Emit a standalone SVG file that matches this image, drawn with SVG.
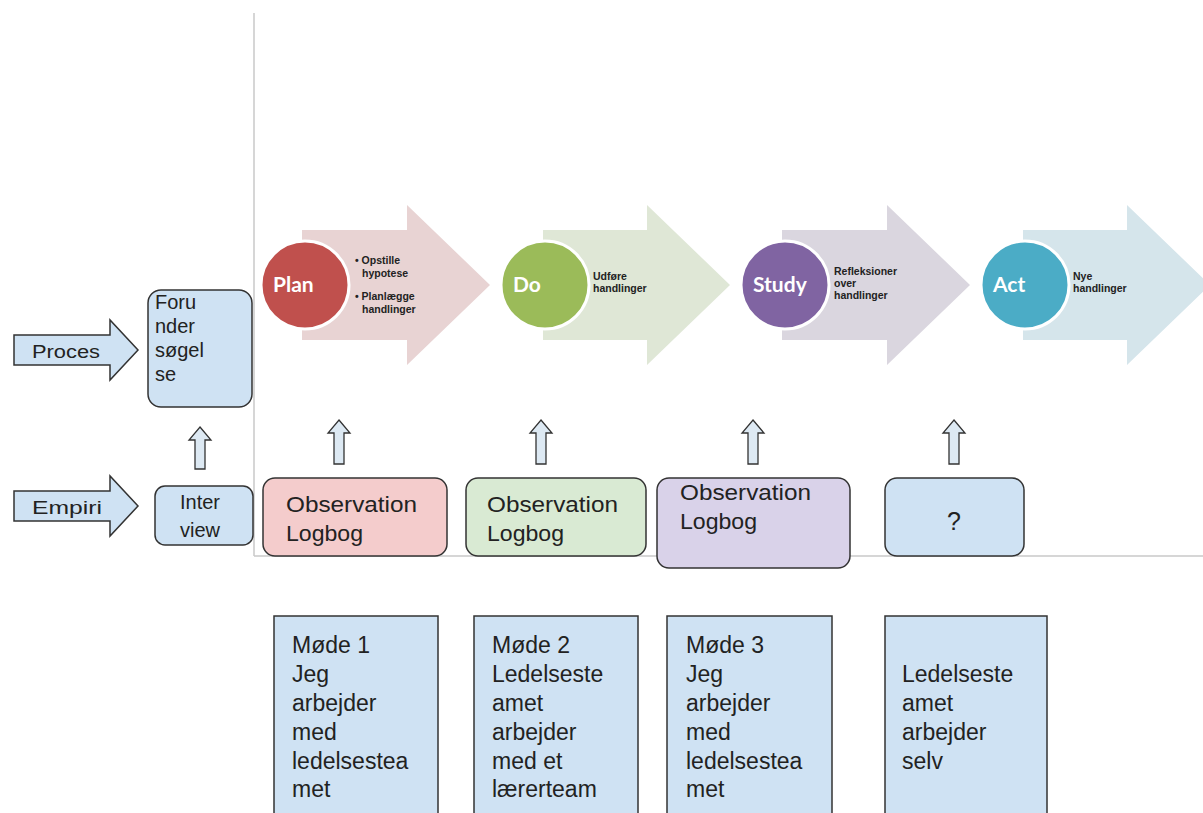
<svg xmlns="http://www.w3.org/2000/svg" width="1203" height="813" viewBox="0 0 1203 813">
<style>
.box{fill:#cfe2f3;stroke:#333;stroke-width:1.5}
.t{font-family:"Liberation Sans",Arial,sans-serif;fill:#222}
.ct{font-family:Lato,"Open Sans",sans-serif;font-weight:bold;fill:#fff;font-size:21px}
.st{font-family:"Liberation Sans",Arial,sans-serif;font-weight:bold;fill:#222;font-size:10.5px}
.ua{fill:#dde9f3;stroke:#333;stroke-width:1.3}
.circ{stroke:#fff;stroke-width:3}
</style>
<rect width="1203" height="813" fill="#fff"/>
<g id="frame">
<line x1="254" y1="13" x2="254" y2="556" stroke="#c8c8c8" stroke-width="1.5"/>
<line x1="254" y1="556" x2="1203" y2="556" stroke="#c8c8c8" stroke-width="1.5"/>
</g>
<g id="plan">
<polygon points="302,230 407,230 407,205 490,285 407,365 407,340 302,340" fill="#e8d3d3"/>
<circle class="circ" cx="305" cy="285" r="44" fill="#c0504d"/>
<text class="ct" x="273" y="292">Plan</text>
<text class="st" x="355" y="264">• Opstille</text>
<text class="st" x="362" y="277">hypotese</text>
<text class="st" x="355" y="300">• Planlægge</text>
<text class="st" x="362" y="313">handlinger</text>
</g>
<g id="do">
<polygon points="543,230 647,230 647,205 730,285 647,365 647,340 543,340" fill="#dfe7d6"/>
<circle class="circ" cx="545" cy="285" r="44" fill="#9bbb59"/>
<text class="ct" x="513" y="292" font-weight="normal">Do</text>
<text class="st" x="593" y="280">Udføre</text>
<text class="st" x="593" y="292">handlinger</text>
</g>
<g id="study">
<polygon points="782,230 887,230 887,205 970,285 887,365 887,340 782,340" fill="#dad6df"/>
<circle class="circ" cx="785" cy="285" r="44" fill="#8064a2"/>
<text class="ct" x="753" y="292">Study</text>
<text class="st" x="834" y="275">Refleksioner</text>
<text class="st" x="834" y="287">over</text>
<text class="st" x="834" y="299">handlinger</text>
</g>
<g id="act">
<polygon points="1023,230 1127,230 1127,205 1210,285 1127,365 1127,340 1023,340" fill="#d5e5eb"/>
<circle class="circ" cx="1025" cy="285" r="44" fill="#4bacc6"/>
<text class="ct" x="993" y="292" font-weight="normal">Act</text>
<text class="st" x="1073" y="280">Nye</text>
<text class="st" x="1073" y="292">handlinger</text>
</g>
<g id="proces">
<polygon class="box" points="14,335 110,335 110,320 138,350 110,380 110,365 14,365"/>
<text class="t" x="32" y="358" font-size="18" textLength="68" lengthAdjust="spacingAndGlyphs">Proces</text>
</g>
<g id="empiri">
<polygon class="box" points="14,491 110,491 110,476 138,506 110,536 110,521 14,521"/>
<text class="t" x="32" y="514" font-size="19" textLength="70" lengthAdjust="spacingAndGlyphs">Empiri</text>
</g>
<g id="forundersogelse">
<rect class="box" x="148" y="290" width="104" height="117" rx="13"/>
<text class="t" font-size="20" x="155"><tspan x="155" y="309">Foru</tspan><tspan x="155" y="333">nder</tspan><tspan x="155" y="357">søgel</tspan><tspan x="155" y="381">se</tspan></text>
</g>
<g id="interview">
<rect class="box" x="155" y="486" width="98" height="59" rx="10"/>
<text class="t" font-size="20" text-anchor="middle"><tspan x="200" y="509">Inter</tspan><tspan x="200" y="537">view</tspan></text>
</g>
<g id="obs1">
<rect x="263" y="478" width="184" height="78" rx="12" fill="#f4cccc" stroke="#333" stroke-width="1.5"/>
<text class="t" font-size="22"><tspan x="286" y="512" textLength="131" lengthAdjust="spacingAndGlyphs">Observation</tspan><tspan x="286" y="541" textLength="77" lengthAdjust="spacingAndGlyphs">Logbog</tspan></text>
</g>
<g id="obs2">
<rect x="466" y="478" width="180" height="78" rx="12" fill="#d9ead3" stroke="#333" stroke-width="1.5"/>
<text class="t" font-size="22"><tspan x="487" y="512" textLength="131" lengthAdjust="spacingAndGlyphs">Observation</tspan><tspan x="487" y="541" textLength="77" lengthAdjust="spacingAndGlyphs">Logbog</tspan></text>
</g>
<g id="obs3">
<rect x="657" y="478" width="193" height="90" rx="12" fill="#d9d2e9" stroke="#333" stroke-width="1.5"/>
<text class="t" font-size="22"><tspan x="680" y="500" textLength="131" lengthAdjust="spacingAndGlyphs">Observation</tspan><tspan x="680" y="529" textLength="77" lengthAdjust="spacingAndGlyphs">Logbog</tspan></text>
</g>
<g id="obs4">
<rect class="box" x="885" y="478" width="139" height="78" rx="12"/>
<text class="t" font-size="25" x="954" y="530" text-anchor="middle">?</text>
</g>
<g id="mode1">
<rect class="box" x="274" y="616" width="164" height="210"/>
<text class="t" font-size="23"><tspan x="292" y="653">Møde 1</tspan><tspan x="292" y="682">Jeg</tspan><tspan x="292" y="711">arbejder</tspan><tspan x="292" y="740">med</tspan><tspan x="292" y="769">ledelsestea</tspan><tspan x="292" y="797">met</tspan></text>
</g>
<g id="mode2">
<rect class="box" x="474" y="616" width="164" height="210"/>
<text class="t" font-size="23"><tspan x="492" y="653">Møde 2</tspan><tspan x="492" y="682">Ledelseste</tspan><tspan x="492" y="711">amet</tspan><tspan x="492" y="740">arbejder</tspan><tspan x="492" y="769">med et</tspan><tspan x="492" y="797">lærerteam</tspan></text>
</g>
<g id="mode3">
<rect class="box" x="667" y="616" width="165" height="210"/>
<text class="t" font-size="23"><tspan x="686" y="653">Møde 3</tspan><tspan x="686" y="682">Jeg</tspan><tspan x="686" y="711">arbejder</tspan><tspan x="686" y="740">med</tspan><tspan x="686" y="769">ledelsestea</tspan><tspan x="686" y="797">met</tspan></text>
</g>
<g id="mode4">
<rect class="box" x="885" y="616" width="162" height="210"/>
<text class="t" font-size="23"><tspan x="902" y="682">Ledelseste</tspan><tspan x="902" y="711">amet</tspan><tspan x="902" y="740">arbejder</tspan><tspan x="902" y="769">selv</tspan></text>
</g>
<g id="connectors">
<polygon class="ua" points="200,427 211,440 205,440 205,469 195,469 195,440 189,440"/>
<polygon class="ua" points="339,420 350,433 344,433 344,464 334,464 334,433 328,433"/>
<polygon class="ua" points="541,420 552,433 546,433 546,464 536,464 536,433 530,433"/>
<polygon class="ua" points="753,420 764,433 758,433 758,464 748,464 748,433 742,433"/>
<polygon class="ua" points="954,420 965,433 959,433 959,464 949,464 949,433 943,433"/>
</g>
</svg>
